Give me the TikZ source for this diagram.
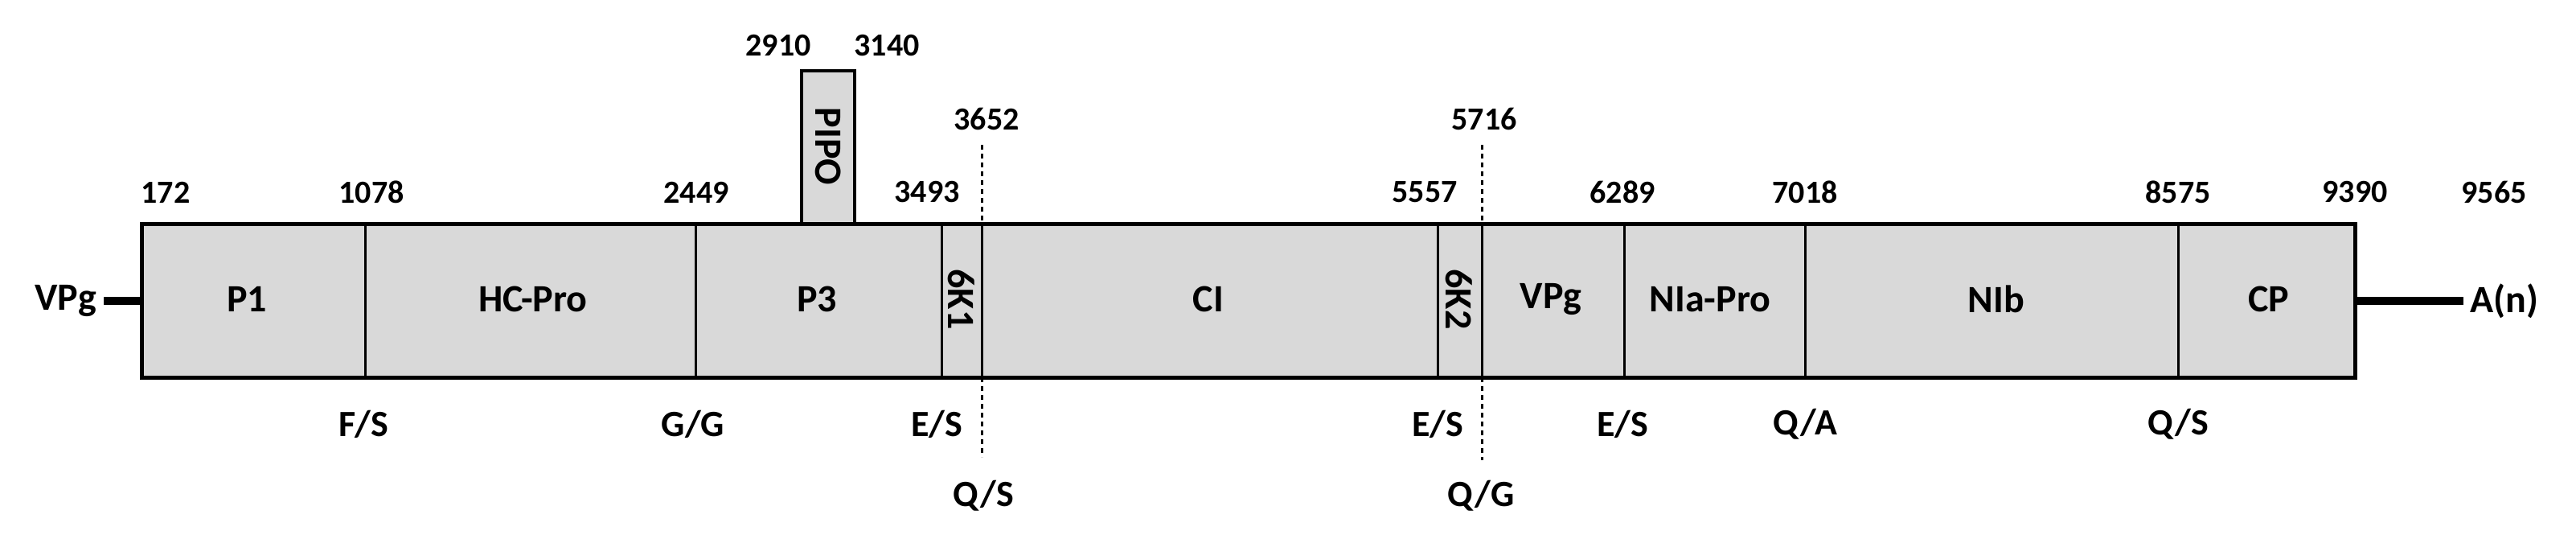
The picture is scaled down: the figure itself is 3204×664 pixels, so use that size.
\documentclass[tikz,border=0pt]{standalone}
\usepackage{fontspec}
\setmainfont{Carlito}
\begin{document}
\begin{tikzpicture}[x=1pt,y=-1pt,
 num/.style={font=\fontsize{40}{44}\selectfont\bfseries,inner sep=0pt},
 lab/.style={font=\fontsize{48}{52}\selectfont\bfseries,inner sep=0pt},
 cut/.style={font=\fontsize{46}{50}\selectfont\bfseries,inner sep=0pt},
 seg/.style={draw=black,line width=3pt},
 dot/.style={line width=3pt,dash pattern=on 6pt off 5pt}]
\useasboundingbox (0,0) rectangle (3204,664);
\fill[gray!30] (997,88) rectangle (1063,278);
\draw[line width=4pt] (997,278) -- (997,88) -- (1063,88) -- (1063,278);
\node[lab,rotate=-90] (pipo) at (1030,182) {PIPO};
\fill[gray!30] (176,278) rectangle (2929,469);
\foreach \x in {454,865,1171,1221,1788,1843,2020,2245,2709}
  \draw[seg] (\x,278) -- (\x,469);
\draw[line width=5pt] (176,278) rectangle (2929,469);
\coordinate (l0) at (129,374); \coordinate (l1) at (176,374);
\coordinate (r0) at (2929,374); \coordinate (r1) at (3064,374);
\draw[line width=10pt] (l0) -- (l1);
\draw[line width=10pt] (r0) -- (r1);
\node[lab,anchor=east] (vpgl) at (120,374) {VPg};
\node[lab,anchor=west] (an) at (3072,374) {A(n)};
\draw[dot] (1221,180) -- (1221,278); \draw[dot] (1221,469) -- (1221,568);
\draw[dot] (1843,180) -- (1843,278); \draw[dot] (1843,469) -- (1843,572);
\foreach \x/\t in {307/P1,663/HC-Pro,1016/P3,1503/CI,1929/VPg,2127/NIa-Pro,2483/NIb,2822/CP}
  \node[lab] at (\x,372) {\t};
\node[lab,rotate=-90] (k1) at (1196,372) {6K1};
\node[lab,rotate=-90] (k2) at (1815,372) {6K2};
\foreach \x/\t in {206/172,462/1078,866/2449,1153/3493,1772/5557,2018/6289,2245/7018,2709/8575,2929/9390,3102/9565}
  \node[num] at (\x,239) {\t};
\node[num] at (968,57) {2910};
\node[num] at (1103,57) {3140};
\node[num] at (1227,148) {3652};
\node[num] at (1846,148) {5716};
\foreach \x/\t in {452/{F/S},862/{G/G},1165/{E/S},1788/{E/S},2018/{E/S},2245/{Q/A},2709/{Q/S}}
  \node[cut] at (\x,527) {\t};
\node[cut] at (1223,616) {Q/S};
\node[cut] at (1842,616) {Q/G};
\end{tikzpicture}
\end{document}
